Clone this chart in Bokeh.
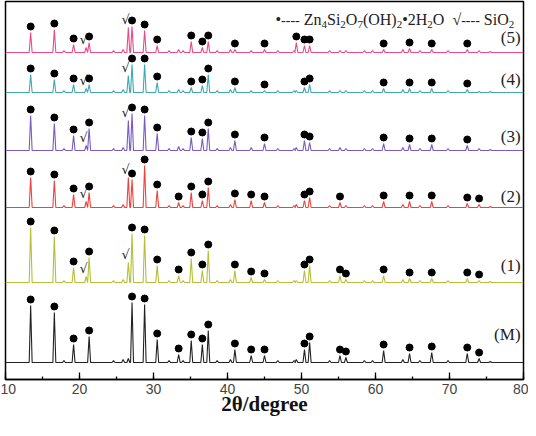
from bokeh.plotting import figure
from bokeh.models import Range1d, SingleIntervalTicker, Label
from bokeh.core.properties import value
from bokeh.embed import file_html
from bokeh.resources import INLINE

# ---------------- data ----------------
# Zn4Si2O7(OH)2·2H2O reflections (2theta, degree)
hemi_pos = [13.4, 16.6, 19.2, 21.3, 27.1, 28.8, 30.5, 33.4, 35.1, 36.6, 37.4, 41.0,
            43.2, 45.0, 49.3, 50.4, 51.1, 55.2, 56.0, 61.1, 64.6, 67.6, 72.4, 74.0]
# intensities (a.u.) per sample, same order as hemi_pos
hemi_M = [57, 50, 18, 26, 60, 58, 23, 8, 22, 18, 32, 13, 7, 7, 3, 13, 20, 7, 5, 12, 9, 10, 9, 4]
hemi_1 = [55, 46, 15, 25, 49, 47, 17, 7, 24, 12, 32, 12, 5, 3, 2, 12, 17, 7, 3, 7, 4, 4, 4, 2]
hemi_2 = [30, 27, 13, 15, 28, 42, 17, 5, 15, 7, 20, 8, 7, 5, 3, 7, 10, 5, 2, 6, 6, 6, 4, 3]
hemi_3 = [35, 27, 15, 22, 37, 35, 17, 4, 13, 12, 22, 10, 3, 7, 3, 10, 8, 3, 2, 7, 6, 6, 5, 2]
hemi_4 = [18, 13, 8, 8, 28, 28, 10, 3, 5, 7, 18, 5, 2, 2, 2, 5, 8, 2, 2, 4, 4, 4, 3, 1]
hemi_5 = [20, 23, 8, 10, 26, 22, 7, 3, 11, 5, 11, 3, 2, 3, 10, 7, 7, 2, 2, 3, 4, 3, 3, 2]
# reflections marked with a dot in each pattern (1 = marked)
mark_M = [1] * 14 + [0] + [1] * 9
mark_1 = [1] * 14 + [0] + [1] * 9
mark_2 = [1] * 14 + [0] + [1] * 3 + [0] + [1] * 5
mark_3 = [1] * 7 + [0] + [1] * 4 + [0, 1, 0, 1, 1, 0, 0, 1, 1, 1, 1, 0]
mark_4 = [1] * 7 + [0] + [1] * 4 + [0, 1, 0, 1, 1, 0, 0, 1, 1, 1, 1, 0]
mark_5 = [1] * 7 + [0] + [1] * 4 + [0, 1, 1, 1, 1, 0, 0, 1, 1, 1, 1, 0]

# SiO2 reflections
sio2_pos = [20.9, 26.6]
sio2_M = [0, 4]
sio2_1 = [6, 20]
sio2_2 = [6, 30]
sio2_3 = [5, 30]
sio2_4 = [4, 17]
sio2_5 = [5, 25]
sio2_mark = [0, 1, 1, 1, 1, 1]

# small unassigned background bumps
minor_pos = [17.9, 24.6, 25.9, 32.1, 34.0, 38.6, 40.4, 46.8, 49.0, 53.8, 58.5, 59.6,
             63.7, 66.0, 69.8, 75.5]
minor_h = [2, 2, 3, 2, 2, 2, 3, 2, 2, 2, 2, 2, 3, 2, 2, 1]

samples = ["(M)", "(1)", "(2)", "(3)", "(4)", "(5)"]
hemi_all = [hemi_M, hemi_1, hemi_2, hemi_3, hemi_4, hemi_5]
mark_all = [mark_M, mark_1, mark_2, mark_3, mark_4, mark_5]
sio2_all = [sio2_M, sio2_1, sio2_2, sio2_3, sio2_4, sio2_5]

x_label = "2θ/degree"

# legend pieces: (text, is_subscript)
legend_pieces = [("•", 0), ("----", 0), (" ", 0), ("Zn", 0), ("4", 1), ("Si", 0), ("2", 1),
                 ("O", 0), ("7", 1), ("(OH)", 0), ("2", 1), ("•", 0), ("2H", 0), ("2", 1),
                 ("O", 0), ("  ", 0), ("√", 0), ("----", 0), (" ", 0), ("SiO", 0), ("2", 1)]

# ---------------- layout / style ----------------
offsets = [17, 97, 172, 229, 287, 327]
label_dy = [28, 17, 11, 14, 13, 15]
colors = ["#222222", "#b7bf38", "#f0423c", "#7a5cc0", "#3fa8b1", "#ea4a8c"]
half_w = 0.2
px_per_unit = 518 / 70.0

p = figure(frame_width=518, frame_height=378, output_backend="svg", toolbar_location=None,
           x_range=Range1d(10, 80), y_range=Range1d(0, 378),
           y_axis_location=None, min_border_left=5, min_border_right=5,
           min_border_top=1, min_border_bottom=0)
p.grid.visible = False
p.outline_line_color = "black"
p.outline_line_width = 1.5
p.background_fill_color = "white"

ax = p.xaxis[0]
ax.ticker = SingleIntervalTicker(interval=10, num_minor_ticks=2)
ax.major_tick_in = 7
ax.major_tick_out = 0
ax.minor_tick_in = 3
ax.minor_tick_out = 0
ax.major_tick_line_color = "black"
ax.minor_tick_line_color = "black"
ax.major_tick_line_width = 1.3
ax.minor_tick_line_width = 1.3
ax.axis_line_color = "black"
ax.axis_line_width = 1.5
ax.major_label_text_font = "Liberation Sans"
ax.major_label_text_font_size = "14px"
ax.major_label_text_color = "#444444"
ax.major_label_standoff = 4
ax.axis_label = x_label
ax.axis_label_text_font = "Liberation Serif"
ax.axis_label_text_font_style = "bold"
ax.axis_label_text_font_size = "21px"
ax.axis_label_text_color = "#111111"
ax.axis_label_standoff = -5

for i, name in enumerate(samples):
    base = offsets[i]
    peaks = []
    for pos, h in zip(hemi_pos, hemi_all[i]):
        peaks.append((pos, h))
    for pos, h in zip(sio2_pos, sio2_all[i]):
        if h > 0:
            peaks.append((pos, h))
    for pos, h in zip(minor_pos, minor_h):
        peaks.append((pos, h))
    peaks.sort()
    xs = [10.0]
    ys = [base]
    for pos, h in peaks:
        xs += [pos - half_w, pos, pos + half_w]
        ys += [base, base + h, base]
    xs.append(80.0)
    ys.append(base)
    p.line(xs, ys, line_color=colors[i], line_width=1.1)

    dx = [pos for pos, m in zip(hemi_pos, mark_all[i]) if m]
    dy = [base + h + 6 for h, m in zip(hemi_all[i], mark_all[i]) if m]
    p.scatter(dx, dy, size=7, marker="circle", fill_color="black", line_color="black")

    if sio2_mark[i]:
        sx = [pos - 0.35 for pos in sio2_pos]
        sy = [base + h + 1 for h in sio2_all[i]]
        p.text(sx, sy, text=["√", "√"], text_font=value("DejaVu Serif"),
               text_font_size="13px", text_align="center", text_baseline="bottom",
               text_color="#222222")

    p.add_layout(Label(x=79.6, y=base + label_dy[i], text=name, text_align="right",
                       text_baseline="middle", text_font="Liberation Serif",
                       text_font_size="17px", text_color="#222222"))

# legend built from pieces so that the subscripts are real lowered text
widths = {"•": 350, "-": 333, " ": 250, "Z": 611, "n": 500, "S": 556, "i": 278, "O": 722,
          "(": 333, ")": 333, "H": 722, "2": 500, "4": 500, "7": 500, "√": 549}
cursor = 10 + (283 - 13) / px_per_unit
for txt, sub in legend_pieces:
    fs = 11 if sub else 16
    if txt == "----":
        fs = 14
    yb = 355.5 if sub else 360
    p.text([cursor], [yb], text=[txt], text_font=value("Liberation Serif"),
           text_font_size=f"{fs}px", text_align="left", text_baseline="alphabetic",
           text_color="#222222")
    w = sum(widths.get(c, 500) for c in txt) / 1000 * fs
    cursor += w / px_per_unit

open("out.html", "w").write(file_html(p, INLINE))
